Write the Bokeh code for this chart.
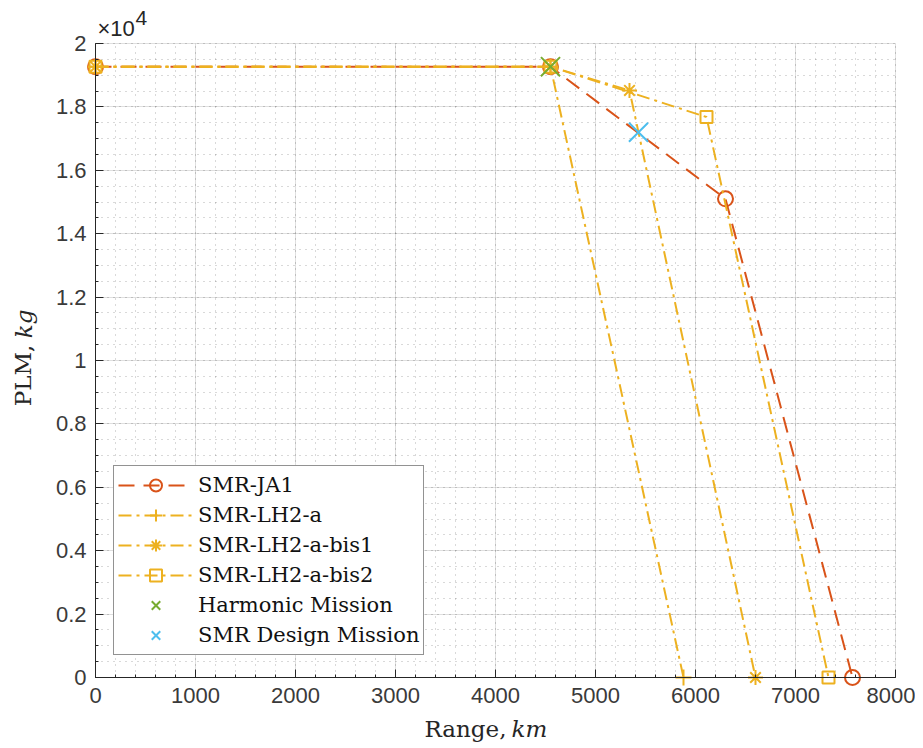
from bokeh.plotting import figure
from bokeh.models import Range1d, FixedTicker, Label, Legend
from bokeh.embed import file_html
from bokeh.resources import INLINE

# ---- data (Range km, PLM kg) ----
ja1_x = [0, 4550, 6300, 7570]
ja1_y = [19270, 19270, 15100, 0]
lh2a_x = [0, 4550, 5880]
lh2a_y = [19270, 19270, 0]
bis1_x = [0, 4550, 5340, 6600]
bis1_y = [19270, 19270, 18520, 0]
bis2_x = [0, 4550, 6110, 7330]
bis2_y = [19270, 19270, 17680, 0]
harm_x = [4550]
harm_y = [19270]
design_x = [5430]
design_y = [17200]

x_ticks = [0, 1000, 2000, 3000, 4000, 5000, 6000, 7000, 8000]
x_tick_labels = ["0", "1000", "2000", "3000", "4000", "5000", "6000", "7000", "8000"]
y_ticks = [0, 2000, 4000, 6000, 8000, 10000, 12000, 14000, 16000, 18000, 20000]
y_tick_labels = ["0", "0.2", "0.4", "0.6", "0.8", "1", "1.2", "1.4", "1.6", "1.8", "2"]
X_MIN, X_MAX = 0, 8000
Y_MIN, Y_MAX = 0, 20000

RED = "#D95319"
YEL = "#EDB120"
GRN = "#77AC30"
BLU = "#4DBEEE"
AX = "#262626"
SERIF = "DejaVu Serif"
SANS = "Liberation Sans"

# canvas layout: axes box spans px 95..895 horizontally, 43..677 vertically
W, H = 915, 746
LEFT, RIGHT, TOP, BOTTOM = 95, 895, 43, 677
sx = (RIGHT - LEFT) / (X_MAX - X_MIN)
sy = (BOTTOM - TOP) / (Y_MAX - Y_MIN)
xr = Range1d(X_MIN - LEFT / sx, X_MAX + (W - RIGHT) / sx)
yr = Range1d(Y_MIN - (H - BOTTOM) / sy, Y_MAX + TOP / sy)

p = figure(width=W, height=H, output_backend="svg", toolbar_location=None,
           x_range=xr, y_range=yr,
           min_border_left=0, min_border_right=0, min_border_top=0, min_border_bottom=0)
p.outline_line_color = None
p.background_fill_color = "white"
p.border_fill_color = "white"

x_minor = [v for v in range(X_MIN, X_MAX + 1, 200)]
y_minor = [v for v in range(Y_MIN, Y_MAX + 1, 500)]
p.xaxis.ticker = FixedTicker(ticks=x_ticks, minor_ticks=x_minor)
p.yaxis.ticker = FixedTicker(ticks=y_ticks, minor_ticks=y_minor)
p.xaxis.major_label_overrides = {t: l for t, l in zip(x_ticks, x_tick_labels)}
p.yaxis.major_label_overrides = {t: l for t, l in zip(y_ticks, y_tick_labels)}
p.xaxis.fixed_location = Y_MIN
p.yaxis.fixed_location = X_MIN
p.xaxis.bounds = (X_MIN, X_MAX)
p.yaxis.bounds = (Y_MIN, Y_MAX)

for ax in (p.xaxis[0], p.yaxis[0]):
    ax.axis_line_color = AX
    ax.axis_line_width = 1
    ax.major_tick_line_color = AX
    ax.minor_tick_line_color = AX
    ax.major_tick_in = 8
    ax.major_tick_out = 0
    ax.minor_tick_in = 3
    ax.minor_tick_out = 0
    ax.major_label_text_font = SANS
    ax.major_label_text_font_size = "22px"
    ax.major_label_text_color = "#3a3a3a"
p.xaxis.major_label_standoff = 10
p.yaxis.major_label_standoff = 9

for g in (p.xgrid[0], p.ygrid[0]):
    g.grid_line_color = AX
    g.grid_line_alpha = 0.15
    g.minor_grid_line_color = AX
    g.minor_grid_line_alpha = 0.35
    g.minor_grid_line_dash = "1 5"
p.xgrid[0].bounds = (X_MIN, X_MAX)
p.ygrid[0].bounds = (Y_MIN, Y_MAX)
try:
    p.xgrid[0].cross_bounds = (Y_MIN, Y_MAX)
    p.ygrid[0].cross_bounds = (X_MIN, X_MAX)
except Exception:
    pass

DASH = "16 9"
DASHDOT = "13 5 3 5"
LW = 2

r1 = p.line(ja1_x, ja1_y, line_color=RED, line_width=LW, line_dash=DASH)
m1 = p.scatter(ja1_x, ja1_y, marker="circle", size=15, fill_color=None, line_color=RED, line_width=LW)
r2 = p.line(lh2a_x, lh2a_y, line_color=YEL, line_width=LW, line_dash=DASHDOT)
m2 = p.scatter(lh2a_x, lh2a_y, marker="cross", size=16, line_color=YEL, line_width=LW)
r3 = p.line(bis1_x, bis1_y, line_color=YEL, line_width=LW, line_dash=DASHDOT)
m3 = p.scatter(bis1_x, bis1_y, marker="asterisk", size=15, line_color=YEL, line_width=LW)
r4 = p.line(bis2_x, bis2_y, line_color=YEL, line_width=LW, line_dash=DASHDOT)
m4 = p.scatter(bis2_x, bis2_y, marker="square", size=12, fill_color=None, line_color=YEL, line_width=LW)
m5 = p.scatter(harm_x, harm_y, marker="x", size=27, line_color=GRN, line_width=LW)
m6 = p.scatter(design_x, design_y, marker="x", size=27, line_color=BLU, line_width=LW)

legend = Legend(items=[
    ("SMR-JA1", [r1, m1]),
    ("SMR-LH2-a", [r2, m2]),
    ("SMR-LH2-a-bis1", [r3, m3]),
    ("SMR-LH2-a-bis2", [r4, m4]),
    ("Harmonic Mission", [m5]),
    ("SMR Design Mission", [m6]),
], location=(113, H - 655))
legend.margin = 0
legend.padding = 4
legend.spacing = 0
legend.glyph_width = 75
legend.glyph_height = 30
legend.label_height = 30
legend.label_standoff = 5
legend.label_text_font = SERIF
legend.label_text_font_size = "21px"
legend.label_text_color = "#111111"
legend.border_line_color = AX
legend.border_line_width = 1
legend.background_fill_color = "white"
legend.background_fill_alpha = 1
p.add_layout(legend)

def dlabel(x, y, text, align, italic=False, angle=0.0, size="23px", font=SERIF):
    return Label(x=x, y=y, text=text, angle=angle,
                 text_align=align, text_baseline="alphabetic", text_font=font,
                 text_font_style="italic" if italic else "normal",
                 text_font_size=size, text_color=AX)

# axis labels (regular + italic unit)
p.add_layout(dlabel(4110, -1640, "Range,", "right"))
p.add_layout(dlabel(4160, -1640, "km", "left", italic=True))
p.add_layout(dlabel(-720, 10500, "PLM,", "right", angle=1.5707963))
p.add_layout(dlabel(-720, 10700, "kg", "left", italic=True, angle=1.5707963))

# exponent
p.add_layout(dlabel(20, 20480, "\u00d710", "left", size="22px", font=SANS))
p.add_layout(dlabel(400, 20790, "4", "left", size="21px", font=SANS))

open("out.html", "w").write(file_html(p, INLINE))
